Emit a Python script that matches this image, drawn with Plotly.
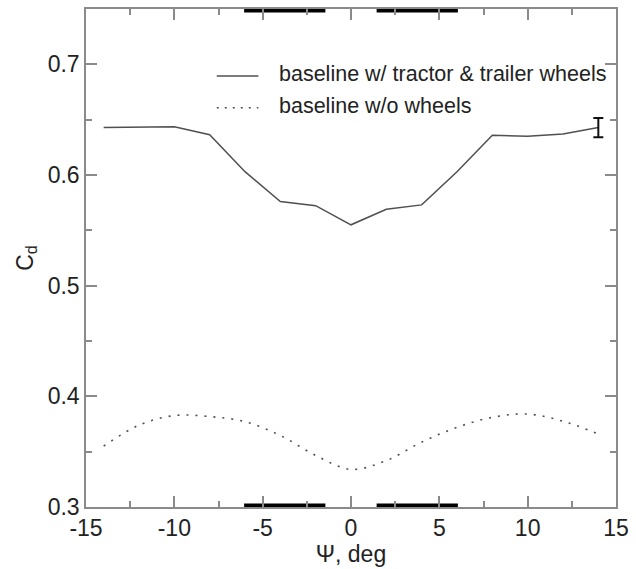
import plotly.graph_objects as go

# --- data ---
psi = [-14, -12, -10, -8, -6, -4, -2, 0, 2, 4, 6, 8, 10, 12, 14]
cd_wheels = [0.643, 0.643, 0.6436, 0.6364, 0.603, 0.576, 0.5723, 0.555,
             0.569, 0.573, 0.603, 0.636, 0.635, 0.637, 0.643]
cd_nowheels = [0.355, 0.374, 0.3826, 0.3817, 0.3771, 0.3646, 0.3466, 0.334,
               0.342, 0.3586, 0.372, 0.381, 0.384, 0.3775, 0.366]
err_x = [14]
err_y = [0.6427]
err_half = [0.0087]
bar_ranges = [(-6.05, -1.45), (1.45, 6.05)]
x_tickvals = [-15, -10, -5, 0, 5, 10, 15]
x_ticktext = ["-15", "-10", "-5", "0", "5", "10", "15"]
y_tickvals = [0.3, 0.4, 0.5, 0.6, 0.7]
y_ticktext = ["0.3", "0.4", "0.5", "0.6", "0.7"]
label_wheels = "baseline w/ tractor & trailer wheels"
label_nowheels = "baseline w/o wheels"

FONT = "Liberation Sans, Arial, sans-serif"

fig = go.Figure()
fig.add_trace(go.Scatter(x=psi, y=cd_wheels, mode="lines",
                         line=dict(color="#505050", width=1.5), showlegend=False))
fig.add_trace(go.Scatter(x=psi, y=cd_nowheels, mode="lines",
                         line=dict(color="#505050", width=1.6, dash="2px,7px", shape="spline"),
                         showlegend=False))
fig.add_trace(go.Scatter(x=err_x, y=err_y, mode="markers", marker=dict(size=1, color="rgba(0,0,0,0)"),
                         error_y=dict(type="data", array=err_half, color="#111", thickness=2, width=5),
                         showlegend=False))
for lo, hi in bar_ranges:
    for yv in (0.75, 0.3):
        fig.add_trace(go.Scatter(x=[lo, hi], y=[yv, yv], mode="lines", cliponaxis=False,
                                 line=dict(color="#000", width=7), showlegend=False))

# manual legend
fig.add_shape(type="line", xref="paper", yref="paper", x0=(218-86)/535, x1=(260-86)/535,
              y0=1-(74-6.7)/500.3, y1=1-(74-6.7)/500.3, line=dict(color="#505050", width=1.5))
fig.add_shape(type="line", xref="paper", yref="paper", x0=(218-86)/535, x1=(260-86)/535,
              y0=1-(106-6.7)/500.3, y1=1-(106-6.7)/500.3, line=dict(color="#505050", width=1.5, dash="2px,6px"))
fig.add_annotation(xref="paper", yref="paper", x=(279-86)/535, y=1-(72-6.7)/500.3, text=label_wheels,
                   showarrow=False, xanchor="left", yanchor="middle", font=dict(size=21.5, color="#222", family=FONT))
fig.add_annotation(xref="paper", yref="paper", x=(279-86)/535, y=1-(104-6.7)/500.3, text=label_nowheels,
                   showarrow=False, xanchor="left", yanchor="middle", font=dict(size=21.5, color="#222", family=FONT))

axis_common = dict(showgrid=False, zeroline=False, showline=True, linecolor="#8a8a8a", linewidth=1.5,
                   mirror="allticks", ticks="inside", ticklen=11, tickwidth=1.5, tickcolor="#8a8a8a",
                   tickfont=dict(size=23, color="#222", family=FONT))
fig.update_xaxes(range=[-15, 15], tickmode="array", tickvals=x_tickvals, ticktext=x_ticktext,
                 minor=dict(dtick=2.5, tick0=0, ticks="inside", ticklen=6, tickwidth=1.5, tickcolor="#8a8a8a"),
                 title=dict(text="Ψ, deg", font=dict(size=23, color="#222", family=FONT), standoff=2),
                 **axis_common)
fig.update_yaxes(range=[0.3, 0.75], tickmode="array", tickvals=y_tickvals, ticktext=y_ticktext,
                 minor=dict(dtick=0.05, tick0=0, ticks="inside", ticklen=6, tickwidth=1.5, tickcolor="#8a8a8a"),
                 title=dict(text="C<sub>d</sub>", font=dict(size=23, color="#222", family=FONT), standoff=8),
                 **axis_common)
fig.update_layout(width=636, height=569, margin=dict(l=86, r=15, t=7, b=62),
                  paper_bgcolor="white", plot_bgcolor="white", font=dict(family=FONT))
fig.write_html("out.html")
